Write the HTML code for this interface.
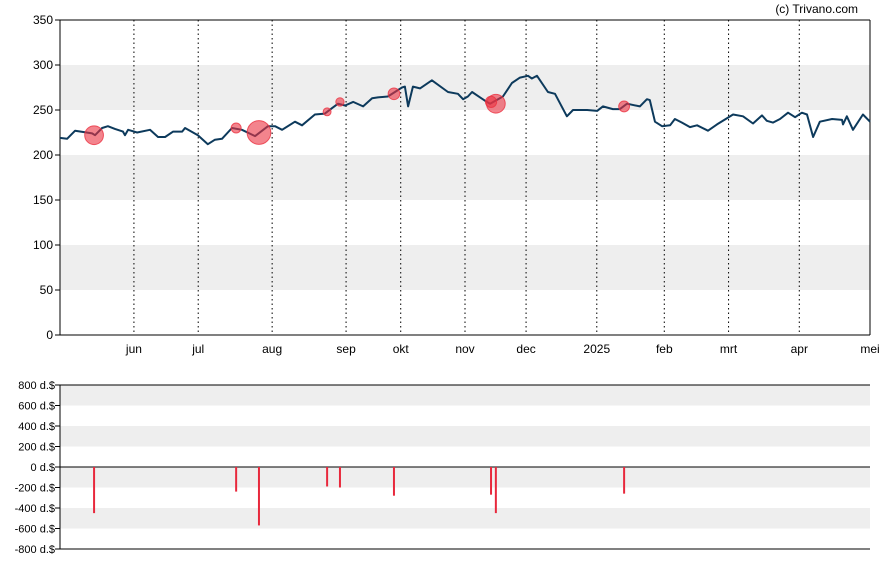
<!DOCTYPE html>
<html><head><meta charset="utf-8">
<style>
body{margin:0;background:#fff;}
svg{display:block;font-family:"Liberation Sans",Arial,sans-serif;}
</style></head>
<body>
<svg id="chart" width="888" height="565"></svg>
<script>
// trading-day index (0..252) and close price
const days = [0,2.2,4.7,10,10.9,13.1,14.9,17.1,19.6,20.2,21.2,24,28,30.5,32.7,35.2,38,38.9,42.9,46,48.2,50.4,53.5,56.6,60.7,64.7,66.9,69.1,73.1,75.3,79.3,82.4,84.6,86.5,88.7,91.2,94.3,97.1,98.9,102,106.4,107.3,108.3,109.8,112,115.7,120.7,123.8,125.4,126.9,128.2,130.7,132.8,133.8,137.8,140.6,143.1,145.6,146.8,148.4,151.8,154,157.7,159.6,164,167.1,168.9,172,174.2,176.4,180.4,182.6,183.5,185.1,187.3,189.8,191.3,193.5,196,198.2,201.6,204.4,209.4,212.5,215.6,218.4,219.9,221.8,224,226.5,228.7,230.8,232.4,234.3,236.4,240.2,243.3,243.6,244.8,246.7,249.8,252];
const prices = [219,218,227,224,222,230,232,229,226,222,228,225,228,220,220,226,226,230,222,212,217,218,230,228,221,232,232,228,237,233,245,246,252,257,255,259,254,263,264,265,275,276,254,276,274,283,270,268,262,265,270,264,259,257,265,280,286,288,285,288,270,268,243,250,250,249,254,251,251,257,254,262,261,237,232,233,240,236,231,233,227,234,245,243,235,244,238,236,240,247,242,247,245,220,237,240,239,234,243,228,245,237];
const tickDays = [23,43,66,89,106,126,145,167,188,208,230,252];
const tickLabels = ["jun","jul","aug","sep","okt","nov","dec","2025","feb","mrt","apr","mei"];
const yTicks = [0,50,100,150,200,250,300,350];
// insider transactions
const txDays = [10.6,54.8,61.9,83.1,87.1,103.9,134.1,135.6,175.5];
const txAmounts = [-450,-240,-570,-190,-200,-280,-270,-450,-260];
const txPrices = [222,230,225,248,259,268,259,257,254];
const volTicks = [800,600,400,200,0,-200,-400,-600,-800];

const NS="http://www.w3.org/2000/svg";
const svg=document.getElementById('chart');
function el(t,a,p){const e=document.createElementNS(NS,t);for(const k in a)e.setAttribute(k,a[k]);(p||svg).appendChild(e);return e;}
const x=d=>60+d*(810/252);
const y=v=>335-v*0.9;
const y2=v=>467-v*(82/800);

[[250,300],[150,200],[50,100]].forEach(b=>{const r=el('rect',{x:60,y:y(b[1]),width:810,height:y(b[0])-y(b[1]),fill:'#eeeeee'});
});
tickDays.forEach((d,i)=>{
 const l=el('line',{x1:x(d),x2:x(d),y1:20,y2:335,stroke:'#000','stroke-dasharray':'1.5,3','stroke-width':1});
 
 const t=el('text',{x:x(d),y:353,'text-anchor':'middle','font-size':12,fill:'#000'});t.textContent=tickLabels[i];
 
});
yTicks.forEach(v=>{
 el('line',{x1:55,x2:60,y1:y(v),y2:y(v),stroke:'#000'});
 const t=el('text',{x:53,y:y(v)+4,'text-anchor':'end','font-size':12,fill:'#000'});t.textContent=v;
 
});
el('line',{x1:60,x2:870,y1:20,y2:20,stroke:'#000'});
el('line',{x1:60,x2:60,y1:20,y2:335,stroke:'#000'});
el('line',{x1:60,x2:870,y1:335,y2:335,stroke:'#000'});
el('line',{x1:870,x2:870,y1:20,y2:335,stroke:'#000'});
const cr=el('text',{x:858,y:13,'text-anchor':'end','font-size':12,fill:'#000'});cr.textContent='(c) Trivano.com';


const pl=el('polyline',{points:days.map((d,i)=>x(d)+','+y(prices[i])).join(' '),fill:'none',stroke:'#0d3a5c','stroke-width':2,'stroke-linejoin':'round'});

txDays.forEach((d,i)=>{
 const c=el('circle',{cx:x(d),cy:y(txPrices[i]),r:Math.abs(txAmounts[i])/48,fill:'rgba(235,50,65,0.6)',stroke:'rgba(235,50,65,0.8)'});
 
});

[[600,800],[200,400],[-200,0],[-600,-400]].forEach(b=>{const r=el('rect',{x:60,y:y2(b[1]),width:810,height:y2(b[0])-y2(b[1]),fill:'#eeeeee'});
});
volTicks.forEach(v=>{
 el('line',{x1:55,x2:60,y1:y2(v),y2:y2(v),stroke:'#000'});
 const t=el('text',{x:55,y:y2(v)+4,'text-anchor':'end','font-size':11,fill:'#000'});t.textContent=v+' d.$';
 
});
el('line',{x1:60,x2:870,y1:y2(800),y2:y2(800),stroke:'#000'});
el('line',{x1:60,x2:870,y1:y2(-800),y2:y2(-800),stroke:'#000'});
el('line',{x1:60,x2:60,y1:y2(800),y2:y2(-800),stroke:'#000'});
el('line',{x1:60,x2:870,y1:y2(0),y2:y2(0),stroke:'#000'});
txDays.forEach((d,i)=>{
 const b=el('line',{x1:x(d),x2:x(d),y1:y2(0),y2:y2(txAmounts[i]),stroke:'#e8283c','stroke-width':2});
 
});
</script>
</body></html>
